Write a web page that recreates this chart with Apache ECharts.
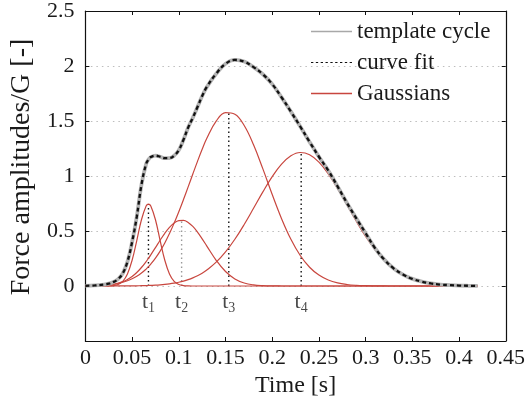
<!DOCTYPE html>
<html>
<head>
<meta charset="utf-8">
<script src="https://cdn.jsdelivr.net/npm/echarts@6/dist/echarts.min.js"></script>
<style>html,body{margin:0;padding:0;background:#fff;}#c{width:528px;height:411px;}</style>
</head>
<body>
<div id="c"></div>
<script>
// ---- data ----
const time = [0,0.01,0.02,0.025,0.03,0.035,0.04,0.045,0.05,0.055,0.06,0.065,0.0675,0.07,0.075,0.08,0.085,0.09,0.095,0.1,0.105,0.11,0.115,0.12,0.125,0.13,0.14,0.15,0.16,0.17,0.18,0.19,0.2,0.21,0.22,0.23,0.24,0.25,0.26,0.27,0.28,0.29,0.3,0.31,0.32,0.33,0.34,0.35,0.36,0.37,0.38,0.39,0.4,0.41,0.42];
const templateCycle = [0.002,0.005,0.013,0.021,0.036,0.063,0.115,0.22,0.40,0.63,0.92,1.11,1.15,1.172,1.185,1.175,1.162,1.163,1.185,1.235,1.33,1.44,1.53,1.627,1.727,1.81,1.93,2.02,2.055,2.04,1.99,1.925,1.835,1.715,1.585,1.45,1.31,1.175,1.05,0.905,0.755,0.615,0.48,0.345,0.24,0.16,0.104,0.065,0.04,0.023,0.013,0.008,0.004,0.002,0.001];
const curveFit = [0.002,0.005,0.013,0.021,0.036,0.063,0.115,0.22,0.40,0.63,0.92,1.11,1.15,1.172,1.185,1.175,1.162,1.163,1.185,1.235,1.33,1.44,1.53,1.627,1.727,1.81,1.93,2.02,2.055,2.04,1.99,1.925,1.835,1.715,1.585,1.45,1.31,1.175,1.05,0.905,0.755,0.615,0.48,0.345,0.24,0.16,0.104,0.065,0.04,0.023,0.013,0.008,0.004,0.002,0.001];
const gauss1 = [0,0,0.0001,0.0008,0.0037,0.0137,0.0427,0.1099,0.234,0.4127,0.6023,0.7276,0.745,0.7276,0.6023,0.4127,0.234,0.1099,0.0427,0.0137,0.0037,0.0008,0.0001,0,0,0,0,0,0,0,0,0,0,0,0,0,0,0,0,0,0,0,0,0,0,0,0,0,0,0,0,0,0,0,0];
const gauss2 = [0.0004,0.0016,0.0053,0.0092,0.0155,0.0251,0.0393,0.0595,0.0871,0.1231,0.1683,0.2221,0.2519,0.2833,0.3493,0.4160,0.4788,0.5326,0.5723,0.5943,0.5964,0.5783,0.5418,0.4905,0.4291,0.3627,0.2338,0.1314,0.0644,0.0275,0.0102,0.0033,0.0009,0.0002,0,0,0,0,0,0,0,0,0,0,0,0,0,0,0,0,0,0,0,0,0];
const gauss3 = [0.0014,0.0035,0.0079,0.0116,0.0169,0.0243,0.0343,0.0477,0.0654,0.0883,0.1175,0.1539,0.1753,0.1989,0.2530,0.3172,0.3917,0.4770,0.5716,0.6753,0.7859,0.9011,1.0180,1.1330,1.2425,1.3423,1.4985,1.5762,1.5622,1.4589,1.2838,1.0645,0.8317,0.6121,0.4246,0.2775,0.1708,0.0991,0.0542,0.0279,0.0136,0.0062,0.0027,0.0011,0.0004,0.0001,0,0,0,0,0,0,0,0,0];
const gauss4 = [0,0,0.0001,0.0002,0.0003,0.0004,0.0006,0.0009,0.0013,0.0019,0.0028,0.0039,0.0046,0.0055,0.0076,0.0105,0.0143,0.0193,0.0258,0.0340,0.0445,0.0576,0.0737,0.0933,0.1169,0.1451,0.2165,0.3097,0.4249,0.5594,0.7063,0.8554,0.9939,1.1075,1.1838,1.2138,1.1937,1.1261,1.0190,0.8844,0.7363,0.5881,0.4504,0.3309,0.2332,0.1577,0.1023,0.0636,0.0380,0.0217,0.0119,0.0063,0.0032,0.0015,0.0007];
const peakTimes = [0.0675, 0.103, 0.1535, 0.231];
const peakValues = [0.745, 0.598, 1.582, 1.214];
const peakLabels = ['1', '2', '3', '4'];
const xTicks = [0,0.05,0.1,0.15,0.2,0.25,0.3,0.35,0.4,0.45];
const yTicks = [0,0.5,1,1.5,2,2.5];

const FONT = 'Liberation Serif';
const TXT = '#1a1a1a';
const RED = '#c8463e';
const GRAY = '#b4b4b4';
const pairs = (ys) => time.map((t, i) => [t, ys[i]]);

const chart = echarts.init(document.getElementById('c'), null, {renderer: 'canvas'});
const gaussList = [gauss1, gauss2, gauss3, gauss4];
const series = [];
gaussList.forEach(g => series.push({
  name: 'Gaussians', type: 'line', data: pairs(g), smooth: 0.4, symbol: 'none',
  lineStyle: {color: RED, width: 1.2}, itemStyle: {color: RED}, z: 2
}));
peakTimes.forEach((t, i) => series.push({
  type: 'line', data: [[t, 0], [t, peakValues[i]]], symbol: 'none', silent: true,
  lineStyle: {color: i === 1 ? '#9a9a9a' : '#111', width: 1.4, type: [1.5, 3]}, z: 1
}));
series.push({
  type: 'scatter', symbolSize: 0, silent: true, z: 5,
  data: peakTimes.map((t, i) => ({value: [t, -0.15], labelText: peakLabels[i]})),
  label: {
    show: true, position: 'inside',
    formatter: p => '{a|t}{b|' + p.data.labelText + '}',
    rich: {
      a: {fontFamily: FONT, fontSize: 22, color: TXT},
      b: {fontFamily: FONT, fontSize: 14, color: TXT, verticalAlign: 'bottom', padding: [11, 0, 0, 0]}
    }
  }
});
series.push({
  name: 'template cycle', type: 'line', data: pairs(templateCycle), smooth: 0.4, symbol: 'none',
  lineStyle: {color: GRAY, width: 3.8}, itemStyle: {color: GRAY}, z: 3
});
series.push({
  name: 'curve fit', type: 'line', data: pairs(curveFit), smooth: 0.4, symbol: 'none',
  lineStyle: {color: '#111', width: 2.3, type: [4, 3]}, itemStyle: {color: '#111'}, z: 4
});

const dashIcon = 'path://M0,0h2.4v1h-2.4zM5,0h2.4v1h-2.4zM10,0h2.4v1h-2.4zM15,0h2.4v1h-2.4zM20,0h2.4v1h-2.4zM25,0h2.4v1h-2.4zM30,0h2.4v1h-2.4zM35,0h2.4v1h-2.4zM40,0h2.4v1h-2.4z';
const axisLine = {show: true, onZero: false, lineStyle: {color: '#111', width: 1.2}};
const tick = {show: true, inside: true, length: 4, lineStyle: {color: '#111'}};
const option = {
  animation: false,
  backgroundColor: '#fff',
  grid: {left: 85, right: 21, top: 9, bottom: 70, containLabel: false},
  legend: {
    data: [
      {name: 'template cycle', icon: 'rect', itemStyle: {color: '#a8a8a8'}},
      {name: 'curve fit', icon: dashIcon, itemStyle: {color: '#111'}},
      {name: 'Gaussians', icon: 'rect', itemStyle: {color: RED}}
    ],
    orient: 'vertical', left: 306, top: 15, itemWidth: 41, itemHeight: 1.6, itemGap: 8,
    textStyle: {fontFamily: FONT, fontSize: 23, color: TXT}
  },
  xAxis: [{
    type: 'value', min: 0, max: 0.45, interval: 0.05,
    axisLine: axisLine, axisTick: tick,
    axisLabel: {fontFamily: FONT, fontSize: 22, color: TXT, margin: 6,
      formatter: v => xTicks.some(x => Math.abs(x - v) < 1e-9) ? String(+v.toFixed(2)) : ''},
    splitLine: {show: false},
    name: 'Time [s]', nameLocation: 'middle', nameGap: 31,
    nameTextStyle: {fontFamily: FONT, fontSize: 24, color: TXT}
  }, {
    type: 'value', position: 'top', min: 0, max: 0.45, interval: 0.05,
    axisLine: axisLine, axisTick: tick,
    axisLabel: {show: false}, splitLine: {show: false}
  }],
  yAxis: [{
    type: 'value', min: -0.5, max: 2.5, interval: 0.5,
    axisLine: axisLine, axisTick: tick,
    axisLabel: {fontFamily: FONT, fontSize: 22, color: TXT, margin: 11,
      formatter: v => yTicks.some(y => Math.abs(y - v) < 1e-9) ? String(+v.toFixed(1)) : ''},
    splitLine: {show: true, lineStyle: {color: '#bdbdbd', width: 1, type: [1.5, 4]}},
    name: 'Force amplitudes/G [-]', nameLocation: 'middle', nameGap: 46,
    nameTextStyle: {fontFamily: FONT, fontSize: 28, color: TXT, padding: [0, 0, 0, 18]}
  }, {
    type: 'value', position: 'right', min: -0.5, max: 2.5, interval: 0.5,
    axisLine: axisLine, axisTick: tick,
    axisLabel: {show: false}, splitLine: {show: false}
  }],
  series: series
};
chart.setOption(option);
</script>
</body>
</html>
